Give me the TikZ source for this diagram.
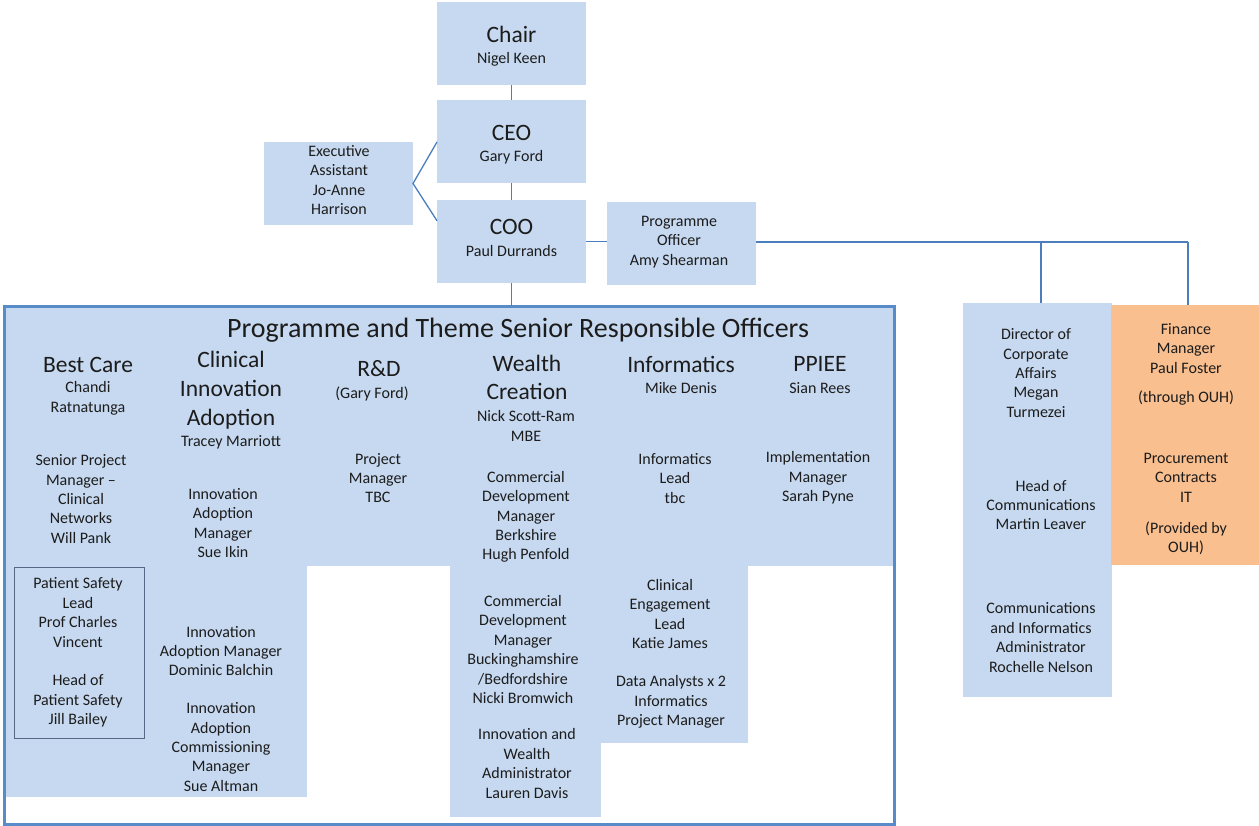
\documentclass[tikz,border=0pt]{standalone}
\usepackage{fontspec}
\setmainfont{Carlito}
\usetikzlibrary{calc}
\definecolor{boxblue}{RGB}{198,217,240}
\definecolor{orangebox}{RGB}{250,191,143}
\definecolor{framblue}{RGB}{88,140,200}
\definecolor{linkblue}{RGB}{74,126,190}
\definecolor{ink}{RGB}{28,28,28}
\definecolor{psframe}{RGB}{85,105,135}
\begin{document}
\begin{tikzpicture}[x=1pt,y=-1pt,
  every node/.style={inner sep=0pt, outer sep=0pt, text=ink, align=center},
  box/.style={fill=boxblue, minimum width=149pt, minimum height=83pt},
  body/.style={font=\fontsize{16}{19.4}\selectfont},
  head/.style={font=\fontsize{23.5}{28.8}\selectfont},
  title/.style={font=\fontsize{28}{34}\selectfont},
  link/.style={draw=linkblue, line width=1.3pt},
]
\useasboundingbox (0,0) rectangle (1259,826);

% ---- executive boxes ----
\node[box] (chair) at (511.5,43.5) {};
\node[box] (ceo)   at (511.5,142) {};
\node[box] (coo)   at (511.5,241.5) {};
\node[box] (exec)  at (338.5,183.5) {};
\node[box] (po)    at (681.5,243.5) {};

\node[head] (chairT) at (511.5,34) {Chair};
\node[body] (chairN) at (511.5,59) {Nigel Keen};
\node[head] (ceoT) at (511.5,133) {CEO};
\node[body] (ceoN) at (511.5,157) {Gary Ford};
\node[head] (cooT) at (511.5,227) {COO};
\node[body] (cooN) at (511.5,251) {Paul Durrands};
\node[body] (execT) at (339,180) {Executive\\Assistant\\Jo-Anne\\Harrison};
\node[body] (poT) at (679,242) {Programme\\Officer\\Amy Shearman};

% ---- programme and theme area: shaded parts ----
\fill[boxblue] (6,307) rectangle (893,566);
\fill[boxblue] (6,565) rectangle (307,797);
\fill[boxblue] (450,565) rectangle (601,817);
\fill[boxblue] (600,565) rectangle (748,743);
\node[draw=framblue, line width=3pt, minimum width=890pt, minimum height=517.5pt] (prog) at (449.5,565.25) {};
\node[draw=psframe, line width=0.9pt, minimum width=130pt, minimum height=171pt] (psafety) at (79,652.5) {};

\node[title] (progT) at (518,330) {Programme and Theme Senior Responsible Officers};

% Best Care
\node[head] (bcH) at (88,365) {Best Care};
\node[body] (bcN) at (88,398.5) {Chandi\\Ratnatunga};
\node[body] (bcP) at (81,499) {Senior Project\\Manager --\\Clinical\\Networks\\Will Pank};
\node[body] (psT) at (78,652.5) {Patient Safety\\Lead\\Prof Charles\\Vincent\\[19.4pt]Head of\\Patient Safety\\Jill Bailey};

% Clinical Innovation Adoption
\node[head] (ciaH) at (231,390) {Clinical\\Innovation\\Adoption};
\node[body] (ciaN) at (231,442) {Tracey Marriott};
\node[body] (cia1) at (223,523) {Innovation\\Adoption\\Manager\\Sue Ikin};
\node[body] (cia2) at (221,651) {Innovation\\Adoption Manager\\Dominic Balchin};
\node[body] (cia3) at (221,747) {Innovation\\Adoption\\Commissioning\\Manager\\Sue Altman};

% R&D
\node[head] (rdH) at (379,369) {R\&D};
\node[body] (rdN) at (372,394) {(Gary Ford)};
\node[body] (rd1) at (378,478) {Project\\Manager\\TBC};

% Wealth Creation
\node[head] (wcH) at (527,377.5) {Wealth\\Creation};
\node[body] (wcN) at (526,426) {Nick Scott-Ram\\MBE};
\node[body] (wc1) at (526,517) {Commercial\\Development\\Manager\\Berkshire\\Hugh Penfold};
\node[body] (wc2) at (523,649.5) {Commercial\\Development\\Manager\\Buckinghamshire\\/Bedfordshire\\Nicki Bromwich};
\node[body] (wc3) at (527,763.5) {Innovation and\\Wealth\\Administrator\\Lauren Davis};

% Informatics
\node[head] (inH) at (681,364) {Informatics};
\node[body] (inN) at (681,388) {Mike Denis};
\node[body] (in1) at (675,478.5) {Informatics\\Lead\\tbc};
\node[body] (in2) at (670,614) {Clinical\\Engagement\\Lead\\Katie James};
\node[body] (in3) at (671,702) {Data Analysts x 2\\Informatics\\Project Manager};

% PPIEE
\node[head] (ppH) at (820,364) {PPIEE};
\node[body] (ppN) at (820,388) {Sian Rees};
\node[body] (pp1) at (818,478) {Implementation\\Manager\\Sarah Pyne};

% ---- corporate affairs and hosted services ----
\node[fill=boxblue, minimum width=149pt, minimum height=394pt] (dir) at (1037,500) {};
\node[fill=orangebox, minimum width=148pt, minimum height=260pt] (fin) at (1185,435) {};

\node[body] (dir1) at (1036,373) {Director of\\Corporate\\Affairs\\Megan\\Turmezei};
\node[body] (dir2) at (1041,505) {Head of\\Communications\\Martin Leaver};
\node[body] (dir3) at (1041,637.5) {Communications\\and Informatics\\Administrator\\Rochelle Nelson};
\node[body] (fin1) at (1186,348.5) {Finance\\Manager\\Paul Foster};
\node[body] (fin2) at (1186,398) {(through OUH)};
\node[body] (fin3) at (1186,477.5) {Procurement\\Contracts\\IT};
\node[body] (fin4) at (1186,538.5) {(Provided by\\OUH)};

% ---- connectors ----
\coordinate (tapDir) at (1041,242);
\coordinate (tapFin) at (1188,242);
\draw[link] (chair) -- (ceo);
\draw[link] (ceo) -- (coo);
\draw[link] (ceo.west) -- (exec.east) -- ($(coo.north west)!0.25!(coo.south west)$);
\draw[link] (coo.east) -- (coo.east -| po.west);
\draw[link] (po.east |- tapFin) -- (tapFin);
\draw[link] (tapDir) -- (tapDir |- dir.north);
\draw[link] (tapFin) -- (tapFin |- fin.north);
\draw[link] (coo.south) -- (coo.south |- prog.north);
\end{tikzpicture}
\end{document}
